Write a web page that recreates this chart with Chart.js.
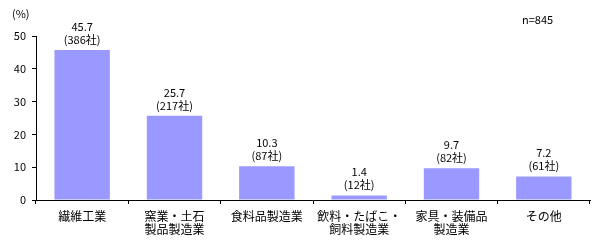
<!DOCTYPE html>
<html>
<head>
<meta charset="utf-8">
<script src="https://cdn.jsdelivr.net/npm/chart.js@4/dist/chart.umd.min.js"></script>
<style>
  html, body { margin: 0; padding: 0; background: #fff; }
  #wrap { width: 598px; height: 245px; position: relative; }
</style>
</head>
<body>
<div id="wrap"><canvas id="chart" width="598" height="245"></canvas></div>
<script>
const categories = [
  ['繊維工業'],
  ['窯業・土石', '製品製造業'],
  ['食料品製造業'],
  ['飲料・たばこ・', '飼料製造業'],
  ['家具・装備品', '製造業'],
  ['その他']
];
const shares = [45.7, 25.7, 10.3, 1.4, 9.7, 7.2];
const companies = [386, 217, 87, 12, 82, 61];
const yTicks = [0, 10, 20, 30, 40, 50];

const FONT = '"Noto Sans CJK JP", "DejaVu Sans", sans-serif';

// value + company count above each bar, plus unit and n label
const labelPlugin = {
  id: 'labels',
  afterDatasetsDraw(chart) {
    const { ctx } = chart;
    const meta = chart.getDatasetMeta(0);
    ctx.save();
    ctx.fillStyle = '#000';
    ctx.font = '11px ' + FONT;
    ctx.textAlign = 'center';
    ctx.textBaseline = 'alphabetic';
    meta.data.forEach((bar, i) => {
      ctx.fillText(shares[i].toFixed(1), bar.x, bar.y - 19);
      ctx.fillText('(' + companies[i] + '社)', bar.x, bar.y - 6);
    });
    ctx.textAlign = 'left';
    ctx.fillText('(%)', 12, 18);
    ctx.fillText('n=845', 522, 24);
    ctx.restore();
  }
};

new Chart(document.getElementById('chart'), {
  type: 'bar',
  data: {
    labels: categories,
    datasets: [{
      data: shares,
      backgroundColor: '#9999FF',
      borderWidth: 0,
      categoryPercentage: 1.0,
      barPercentage: 0.6
    }]
  },
  options: {
    responsive: false,
    animation: false,
    layout: { padding: { top: 36, right: 8, left: 0, bottom: 0 } },
    plugins: { legend: { display: false }, tooltip: { enabled: false } },
    scales: {
      x: {
        afterFit(scale) { scale.height = 45; },
        grid: { display: true, drawOnChartArea: false, drawTicks: true, tickLength: 4, color: '#000', offset: true },
        border: { display: true, color: '#000' },
        ticks: { color: '#000', font: { size: 12, family: FONT, lineHeight: 1.1 }, padding: 6, maxRotation: 0, autoSkip: false }
      },
      y: {
        min: 0,
        max: 50,
        afterFit(scale) { scale.width = 36; },
        afterBuildTicks(scale) { scale.ticks = yTicks.map(v => ({ value: v })); },
        grid: { display: true, drawOnChartArea: false, drawTicks: true, tickLength: 4, color: '#000' },
        border: { display: true, color: '#000' },
        ticks: { color: '#000', font: { size: 11, family: FONT }, padding: 6 }
      }
    }
  },
  plugins: [labelPlugin]
});
</script>
</body>
</html>
